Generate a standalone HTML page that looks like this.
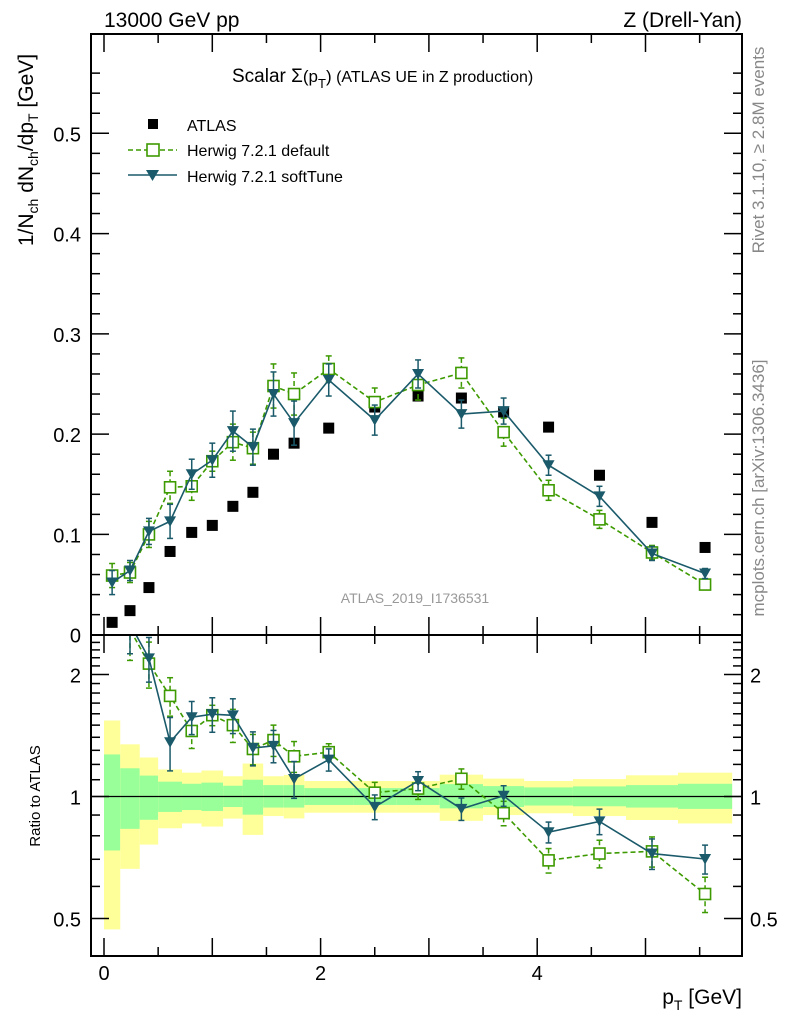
<!DOCTYPE html>
<html><head><meta charset="utf-8"><style>
body{margin:0;background:#fff;}
svg{display:block;font-family:"Liberation Sans",sans-serif;}
</style></head><body>
<svg id="c" width="786" height="1024" viewBox="0 0 786 1024"></svg>
<script>
const binEdges=[0,0.15,0.33,0.5,0.72,0.9,1.1,1.28,1.47,1.66,1.85,2.3,2.7,3.1,3.5,3.88,4.33,4.82,5.3,5.8];
const atlasVals=[0.0123,0.024,0.047,0.083,0.102,0.109,0.128,0.142,0.180,0.191,0.206,0.227,0.238,0.236,0.222,0.207,0.159,0.112,0.087];
const defVals=[0.059,0.062,0.100,0.147,0.148,0.173,0.192,0.186,0.248,0.240,0.265,0.232,0.249,0.261,0.202,0.144,0.115,0.082,0.050];
const defErr=[0.012,0.010,0.013,0.016,0.014,0.010,0.018,0.016,0.022,0.021,0.013,0.014,0.015,0.015,0.014,0.010,0.009,0.007,0.005];
const softVals=[0.052,0.064,0.103,0.113,0.160,0.174,0.203,0.187,0.240,0.211,0.254,0.214,0.260,0.220,0.223,0.169,0.138,0.081,0.061];
const softErr=[0.012,0.010,0.013,0.017,0.015,0.017,0.020,0.018,0.022,0.022,0.016,0.015,0.014,0.014,0.013,0.010,0.010,0.007,0.005];
const yelUp=[1.54,1.345,1.248,1.166,1.145,1.159,1.122,1.206,1.122,1.130,1.092,1.092,1.092,1.132,1.107,1.092,1.104,1.128,1.145];
const yelDn=[0.47,0.663,0.761,0.835,0.858,0.843,0.882,0.804,0.895,0.883,0.912,0.912,0.912,0.871,0.900,0.909,0.895,0.875,0.858];
const grnUp=[1.27,1.174,1.126,1.088,1.075,1.082,1.063,1.100,1.067,1.067,1.049,1.049,1.049,1.073,1.061,1.053,1.059,1.067,1.075];
const grnDn=[0.736,0.832,0.876,0.916,0.926,0.921,0.942,0.902,0.939,0.939,0.953,0.953,0.953,0.935,0.942,0.950,0.946,0.939,0.932];
const mainTicks=[0,0.1,0.2,0.3,0.4,0.5];
const ratioTicks=[0.5,1,2];
const xTicks=[0,2,4];

const NS="http://www.w3.org/2000/svg";
const svg=document.getElementById('c');
const L=91,R=742,T=34,MB=635,RB=956;
const X=v=>104+v*108.3;
const Y=v=>634.7-v*1002.8;
const YR=r=>796.5-122*Math.log2(r);
function el(tag,attrs,parent){const e=document.createElementNS(NS,tag);for(const k in attrs)e.setAttribute(k,attrs[k]);(parent||svg).appendChild(e);return e;}
function txt(s,x,y,attrs){const t=el('text',Object.assign({x:x,y:y},attrs||{}));t.innerHTML=s;return t;}

const defs=el('defs',{});
const cp1=el('clipPath',{id:'cm'},defs);el('rect',{x:L,y:T,width:R-L,height:MB-T},cp1);
const cp2=el('clipPath',{id:'cr'},defs);el('rect',{x:L,y:MB,width:R-L,height:RB-MB},cp2);

const gBand=el('g',{'clip-path':'url(#cr)'});


for(let i=0;i<atlasVals.length;i++){
  const x0=X(binEdges[i]),x1=X(binEdges[i+1]);
  const y=el('rect',{x:x0,y:YR(yelUp[i]),width:x1-x0,height:YR(yelDn[i])-YR(yelUp[i]),fill:'#ffff99'},gBand);
  
  
  const g=el('rect',{x:x0,y:YR(grnUp[i]),width:x1-x0,height:YR(grnDn[i])-YR(grnUp[i]),fill:'#99ff99'},gBand);
  
  
}
el('line',{x1:L,x2:R,y1:YR(1),y2:YR(1),stroke:'#000','stroke-width':1.3});

const centers=atlasVals.map((_,i)=>(binEdges[i]+binEdges[i+1])/2);
const GREEN='#3d9a00',TEAL='#1a5a6a';

function tri(g,cx,cy,col){el('path',{d:`M${cx-6},${cy-5} L${cx+6},${cy-5} L${cx},${cy+5.5} Z`,fill:col},g);}
function series(vals,errs,yf,col,dash,marker,name,ratio){
  const g=el('g',{'clip-path':ratio?'url(#cr)':'url(#cm)'});
  
  
  const pts=vals.map((v,i)=>{const val=ratio?v/atlasVals[i]:v;return [X(centers[i]),yf(val)];});
  el('polyline',{points:pts.map(p=>p.join(',')).join(' '),fill:'none',stroke:col,'stroke-width':1.6,'stroke-dasharray':dash||'none'},g);
  vals.forEach((v,i)=>{
    const d=ratio?atlasVals[i]:1;
    const hi=yf((v+errs[i])/d),lo=yf((v-errs[i])/d),cx=X(centers[i]);
    el('line',{x1:cx,x2:cx,y1:hi,y2:lo,stroke:col,'stroke-width':1.5,'stroke-dasharray':dash||'none'},g);
    el('line',{x1:cx-3,x2:cx+3,y1:hi,y2:hi,stroke:col,'stroke-width':1.5},g);
    el('line',{x1:cx-3,x2:cx+3,y1:lo,y2:lo,stroke:col,'stroke-width':1.5},g);
    if(marker==='sq'){el('rect',{x:cx-5.5,y:pts[i][1]-5.5,width:11,height:11,fill:'#fff',stroke:col,'stroke-width':1.6},g);}
    else tri(g,cx,pts[i][1],col);
  });
}
const ga=el('g',{'clip-path':'url(#cm)'});


atlasVals.forEach((v,i)=>{el('rect',{x:X(centers[i])-5.5,y:Y(v)-5.5,width:11,height:11,fill:'#000'},ga);});
series(defVals,defErr,Y,GREEN,'5,3','sq','herwig-default-series',false);
series(softVals,softErr,Y,TEAL,null,'tri','herwig-softtune-series',false);
series(defVals,defErr,YR,GREEN,'5,3','sq','herwig-default-ratio',true);
series(softVals,softErr,YR,TEAL,null,'tri','herwig-softtune-ratio',true);

el('rect',{x:L,y:T,width:R-L,height:MB-T,fill:'none',stroke:'#000','stroke-width':2});
el('rect',{x:L,y:MB,width:R-L,height:RB-MB,fill:'none',stroke:'#000','stroke-width':2});

for(let v=0;v<=0.58;v+=0.02){const y=Y(v);const maj=Math.abs(v*10-Math.round(v*10))<1e-6;const len=maj?18:9;
  el('line',{x1:L,x2:L+len,y1:y,y2:y,stroke:'#000','stroke-width':1.5});el('line',{x1:R,x2:R-len,y1:y,y2:y,stroke:'#000','stroke-width':1.5});}
mainTicks.forEach(v=>{const t=txt(String(v),81,Y(v)+8,{'font-size':20,'text-anchor':'end'});
  });
for(let r=0.4;r<=2.55;r+=0.1){const y=YR(r);if(y<MB||y>RB)continue;const maj=[0.5,1,2].some(m=>Math.abs(m-r)<1e-6);const len=maj?18:9;
  el('line',{x1:L,x2:L+len,y1:y,y2:y,stroke:'#000','stroke-width':1.5});el('line',{x1:R,x2:R-len,y1:y,y2:y,stroke:'#000','stroke-width':1.5});}
ratioTicks.forEach(r=>{const t=txt(String(r),81,YR(r)+8,{'font-size':20,'text-anchor':'end'});
  
  const t2=txt(String(r),750,YR(r)+8,{'font-size':20});
  });
for(let v=0;v<=5.8;v+=0.5){const x=X(v);const maj=Math.abs(v-Math.round(v))<1e-6;const len=maj?18:9;
  [[T,1],[MB,-1],[MB,1],[RB,-1]].forEach(([y0,s])=>el('line',{x1:x,x2:x,y1:y0,y2:y0+s*len,stroke:'#000','stroke-width':1.5}));}
xTicks.forEach(v=>{const t=txt(String(v),X(v),980,{'font-size':20,'text-anchor':'middle'});
  });
</script>
<svg width="786" height="1024" style="position:absolute;left:0;top:0" font-family="Liberation Sans, sans-serif">
<text x="104" y="27" font-size="21">13000 GeV pp</text>
<text x="742" y="27" font-size="21" text-anchor="end">Z (Drell-Yan)</text>
<text x="232" y="82" font-size="19">Scalar Σ<tspan font-size="17">(p</tspan><tspan font-size="13" dy="6">T</tspan><tspan font-size="17" dy="-6">)</tspan><tspan font-size="16"> (ATLAS UE in Z production)</tspan></text>
<g>
<rect x="148" y="119" width="10" height="10" fill="#000"/>
<text x="187" y="131" font-size="16">ATLAS</text>
<line x1="128" x2="177" y1="150" y2="150" stroke="#3d9a00" stroke-width="1.5" stroke-dasharray="5,3"/>
<rect x="147" y="144" width="12" height="12" fill="#fff" stroke="#3d9a00" stroke-width="1.6"/>
<text x="187" y="156" font-size="16">Herwig 7.2.1 default</text>
<line x1="128" x2="177" y1="175" y2="175" stroke="#1a5a6a" stroke-width="1.6"/>
<path d="M146,170 L159,170 L152.5,181 Z" fill="#1a5a6a"/>
<text x="187" y="182" font-size="16">Herwig 7.2.1 softTune</text>
</g>
<text x="415" y="603" font-size="14" fill="#999" text-anchor="middle">ATLAS_2019_I1736531</text>
<text transform="translate(764,150) rotate(-90)" font-size="17" fill="#888" text-anchor="middle">Rivet 3.1.10, ≥ 2.8M events</text>
<text transform="translate(764,488) rotate(-90)" font-size="17" fill="#888" text-anchor="middle">mcplots.cern.ch [arXiv:1306.3436]</text>
<text transform="translate(33,150) rotate(-90)" font-size="21" text-anchor="middle">1/N<tspan font-size="14" dy="5">ch</tspan><tspan dy="-5"> dN</tspan><tspan font-size="14" dy="5">ch</tspan><tspan dy="-5">/dp</tspan><tspan font-size="14" dy="5">T</tspan><tspan dy="-5"> [GeV]</tspan></text>
<text transform="translate(40,796) rotate(-90)" font-size="15" text-anchor="middle">Ratio to ATLAS</text>
<text x="742" y="1004" font-size="21" text-anchor="end">p<tspan font-size="14" dy="6">T</tspan><tspan dy="-6"> [GeV]</tspan></text>
</svg>
</body></html>
